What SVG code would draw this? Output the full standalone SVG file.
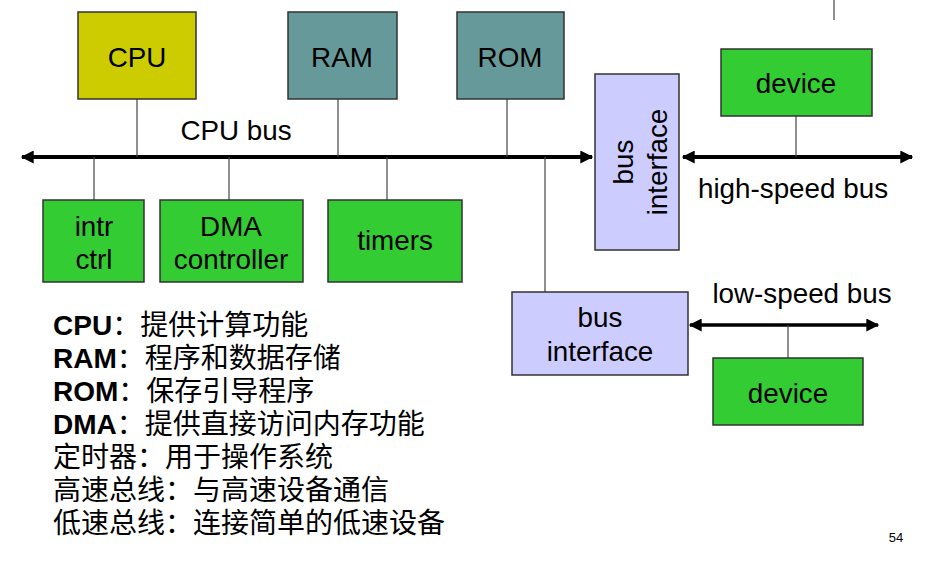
<svg xmlns="http://www.w3.org/2000/svg" width="930" height="567" viewBox="0 0 930 567">
<defs>
<style>
.box{stroke:#333;stroke-width:1.5}
.cpu{fill:#CCCC00}
.mem{fill:#669999}
.dev{fill:#33CC33}
.bif{fill:#CCCCFF}
.lbl{font-family:"Liberation Sans",Arial,sans-serif;font-size:27.8px;fill:#000;text-anchor:middle}
.stub{stroke:#444;stroke-width:1.2;fill:none}
.bus{stroke:#000;stroke-width:4;fill:none}
.bus2{stroke:#000;stroke-width:3.5;fill:none}
.cn{font-family:"Liberation Sans","Noto Sans CJK SC",sans-serif;font-size:28px;fill:#000}
.b{font-weight:bold}
</style>
<marker id="ah" viewBox="0 0 10 10" refX="9" refY="5" markerWidth="14" markerHeight="13" markerUnits="userSpaceOnUse" orient="auto-start-reverse">
<path d="M0,0 L10,5 L0,10 z" fill="#000"/>
</marker>
</defs>
<rect width="930" height="567" fill="#fff"/>
<g id="connectors">
<line class="bus" x1="22" y1="157" x2="592" y2="157" marker-start="url(#ah)" marker-end="url(#ah)"/>
<line class="bus" x1="683" y1="157" x2="912" y2="157" marker-start="url(#ah)" marker-end="url(#ah)"/>
<line class="bus2" x1="690" y1="325" x2="878" y2="325" marker-start="url(#ah)" marker-end="url(#ah)"/>
<line class="stub" x1="137" y1="99" x2="137" y2="157"/>
<line class="stub" x1="338" y1="99" x2="338" y2="157"/>
<line class="stub" x1="507" y1="99" x2="507" y2="157"/>
<line class="stub" x1="94" y1="157" x2="94" y2="200"/>
<line class="stub" x1="229" y1="157" x2="229" y2="200"/>
<line class="stub" x1="387" y1="157" x2="387" y2="200"/>
<line class="stub" x1="545" y1="157" x2="545" y2="292"/>
<line class="stub" x1="796" y1="116" x2="796" y2="157"/>
<line class="stub" x1="788" y1="325" x2="788" y2="358"/>
<line class="stub" x1="834" y1="0" x2="834" y2="20"/>
</g>
<g id="cpu"><rect class="box cpu" x="78" y="12" width="118" height="87"/><text class="lbl" x="137" y="67">CPU</text></g>
<g id="ram"><rect class="box mem" x="288" y="12" width="109" height="87"/><text class="lbl" x="342" y="67">RAM</text></g>
<g id="rom"><rect class="box mem" x="457" y="12" width="107" height="87"/><text class="lbl" x="510" y="67">ROM</text></g>
<g id="intr"><rect class="box dev" x="43" y="200" width="101" height="82"/><text class="lbl" x="94" y="236">intr</text><text class="lbl" x="94" y="269">ctrl</text></g>
<g id="dma"><rect class="box dev" x="160" y="200" width="143" height="82"/><text class="lbl" x="231" y="236">DMA</text><text class="lbl" x="231" y="269">controller</text></g>
<g id="timers"><rect class="box dev" x="328" y="200" width="134" height="82"/><text class="lbl" x="395" y="250">timers</text></g>
<g id="busif1"><rect class="box bif" x="595" y="74" width="84" height="176"/>
<g transform="translate(637,162) rotate(-90)"><text class="lbl" x="0" y="-4">bus</text><text class="lbl" x="0" y="30">interface</text></g></g>
<g id="device1"><rect class="box dev" x="721" y="49" width="151" height="67"/><text class="lbl" x="796" y="93">device</text></g>
<g id="busif2"><rect class="box bif" x="512" y="292" width="176" height="83"/><text class="lbl" x="600" y="327">bus</text><text class="lbl" x="600" y="361">interface</text></g>
<g id="device2"><rect class="box dev" x="713" y="358" width="150" height="67"/><text class="lbl" x="788" y="403">device</text></g>
<g id="labels">
<text class="lbl" x="236" y="140">CPU bus</text>
<text class="lbl" x="793" y="198">high-speed bus</text>
<text class="lbl" x="802" y="303">low-speed bus</text>
<text x="896" y="542" style="font-family:'Liberation Sans',Arial,sans-serif;font-size:13px;text-anchor:middle">54</text>
</g>
<g id="legend">
<text class="cn" x="53" y="335"><tspan class="b">CPU</tspan>：提供计算功能</text>
<text class="cn" x="53" y="368"><tspan class="b">RAM</tspan>：程序和数据存储</text>
<text class="cn" x="53" y="401"><tspan class="b">ROM</tspan>：保存引导程序</text>
<text class="cn" x="53" y="434"><tspan class="b">DMA</tspan>：提供直接访问内存功能</text>
<text class="cn" x="53" y="467">定时器：用于操作系统</text>
<text class="cn" x="53" y="500">高速总线：与高速设备通信</text>
<text class="cn" x="53" y="533">低速总线：连接简单的低速设备</text>
</g>
</svg>
